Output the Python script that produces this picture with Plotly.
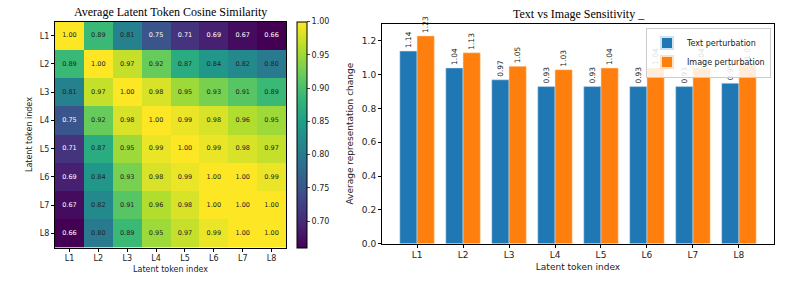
import plotly.graph_objects as go

tokens = ["L1", "L2", "L3", "L4", "L5", "L6", "L7", "L8"]
similarity = [
    [1.00, 0.89, 0.81, 0.75, 0.71, 0.69, 0.67, 0.66],
    [0.89, 1.00, 0.97, 0.92, 0.87, 0.84, 0.82, 0.80],
    [0.81, 0.97, 1.00, 0.98, 0.95, 0.93, 0.91, 0.89],
    [0.75, 0.92, 0.98, 1.00, 0.99, 0.98, 0.96, 0.95],
    [0.71, 0.87, 0.95, 0.99, 1.00, 0.99, 0.98, 0.97],
    [0.69, 0.84, 0.93, 0.98, 0.99, 1.00, 1.00, 0.99],
    [0.67, 0.82, 0.91, 0.96, 0.98, 1.00, 1.00, 1.00],
    [0.66, 0.80, 0.89, 0.95, 0.97, 0.99, 1.00, 1.00],
]
text_pert = [1.14, 1.04, 0.97, 0.93, 0.93, 0.93, 0.93, 0.95]
image_pert = [1.23, 1.13, 1.05, 1.03, 1.04, 1.04, 1.04, 1.07]
cbar_ticks = [0.70, 0.75, 0.80, 0.85, 0.90, 0.95, 1.00]

W, H = 785, 286
def px(x): return x / W
def py(y): return 1 - y / H

tick_font = dict(family="DejaVu Sans", size=8, color="#222")
title_font = dict(family="Liberation Serif", size=12, color="black")

fig = go.Figure()

zmin = min(min(r) for r in similarity)
fig.add_trace(go.Heatmap(
    z=similarity, x=tokens, y=tokens, colorscale="Viridis",
    zmin=zmin, zmax=1.0, xaxis="x", yaxis="y",
    colorbar=dict(x=px(297), xanchor="left", y=py(252), yanchor="bottom",
                  len=(252 - 22) / H, lenmode="fraction", thickness=10,
                  tickvals=cbar_ticks, ticktext=[f"{v:.2f}" for v in cbar_ticks],
                  ticks="outside", ticklen=3, tickfont=tick_font,
                  outlinewidth=1, outlinecolor="black", xpad=0, ypad=0),
))

xs, ys, txt, cols = [], [], [], []
for i, row in enumerate(similarity):
    for j, v in enumerate(row):
        xs.append(tokens[j]); ys.append(tokens[i]); txt.append(f"{v:.2f}")
        cols.append("white" if v < 0.78 else "#222")
fig.add_trace(go.Scatter(x=xs, y=ys, text=txt, mode="text",
                         textfont=dict(family="DejaVu Sans", size=6.5, color=cols),
                         xaxis="x", yaxis="y", showlegend=False, hoverinfo="skip"))

fig.add_trace(go.Bar(x=tokens, y=text_pert, name="Text perturbation",
                     marker=dict(color="#1f77b4", line=dict(color="#cfe3f3", width=0.5)),
                     texttemplate="%{y:.2f}", textposition="outside", textangle=-90,
                     textfont=dict(family="DejaVu Sans", size=7.5, color="#222"),
                     cliponaxis=False, xaxis="x2", yaxis="y2"))
fig.add_trace(go.Bar(x=tokens, y=image_pert, name="Image perturbation",
                     marker=dict(color="#ff7f0e", line=dict(color="#ffe0c0", width=0.5)),
                     texttemplate="%{y:.2f}", textposition="outside", textangle=-90,
                     textfont=dict(family="DejaVu Sans", size=7.5, color="#222"),
                     cliponaxis=False, xaxis="x2", yaxis="y2"))

axis_common = dict(showline=True, mirror=True, linecolor="black", linewidth=1,
                   ticks="outside", ticklen=3, tickcolor="black", tickfont=tick_font,
                   showgrid=False, zeroline=False)

fig.update_layout(
    width=W, height=H, margin=dict(l=0, r=0, t=0, b=0),
    paper_bgcolor="white", plot_bgcolor="white",
    barmode="group", bargap=0.25, bargroupgap=0,
    showlegend=True,
    legend=dict(x=px(771), xanchor="right", y=py(28), yanchor="top",
                bgcolor="rgba(255,255,255,0.85)", bordercolor="#cccccc", borderwidth=1,
                font=dict(family="DejaVu Sans", size=8, color="#222"),
                tracegroupgap=0, itemwidth=30, itemsizing="constant"),
    xaxis=dict(domain=[px(55), px(286)], title=dict(text="Latent token index",
               font=dict(family="DejaVu Sans", size=8, color="#222"), standoff=4),
               **axis_common),
    yaxis=dict(domain=[py(252), py(22)], autorange="reversed",
               title=dict(text="Latent token index",
               font=dict(family="DejaVu Sans", size=8, color="#222"), standoff=6),
               **axis_common),
    xaxis2=dict(domain=[px(382), px(774)], anchor="y2", range=[-0.7625, 7.7625],
                title=dict(text="Latent token index",
                font=dict(family="DejaVu Sans", size=9, color="#222"), standoff=4),
                **axis_common),
    yaxis2=dict(domain=[py(248), py(24)], anchor="x2", range=[0, 1.303],
                tickvals=[0, 0.2, 0.4, 0.6, 0.8, 1.0, 1.2],
                ticktext=["0.0", "0.2", "0.4", "0.6", "0.8", "1.0", "1.2"],
                title=dict(text="Average representation change",
                font=dict(family="DejaVu Sans", size=9, color="#222"), standoff=6),
                **axis_common),
    annotations=[
        dict(text="Average Latent Token Cosine Similarity", x=px(170), y=py(12),
             xref="paper", yref="paper", xanchor="center", yanchor="middle",
             showarrow=False, font=title_font),
        dict(text="Text vs Image Sensitivity _", x=px(579), y=py(14),
             xref="paper", yref="paper", xanchor="center", yanchor="middle",
             showarrow=False, font=title_font),
    ],
)
fig.update_xaxes(tickfont=dict(family="DejaVu Sans", size=9, color="#222"), selector=dict(anchor="y2"))
fig.update_yaxes(tickfont=dict(family="DejaVu Sans", size=9, color="#222"), selector=dict(anchor="x2"))

fig.write_html("out.html")
